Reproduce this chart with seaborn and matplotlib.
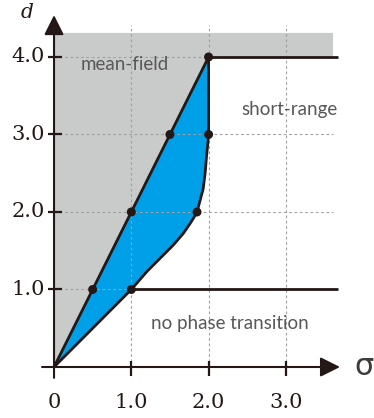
import numpy as np
import pandas as pd
import matplotlib
matplotlib.use("Agg")
import matplotlib.pyplot as plt
import seaborn as sns

# ---------------- data ----------------
x_ticks = [1.0, 2.0, 3.0]
x_tick_labels = ["1.0", "2.0", "3.0"]
y_ticks = [1.0, 2.0, 3.0, 4.0]
y_tick_labels = ["1.0", "2.0", "3.0", "4.0"]

# mean-field boundary d = 2*sigma
mf_sigma = [0.0, 2.0]
mf_d = [0.0, 4.0]

# short-range boundary (right edge of blue region)
sr_sigma = [0.0, 1.0, 1.2, 1.37, 1.54, 1.67, 1.76, 1.81, 1.85, 1.89, 1.93, 1.955, 1.975, 1.99, 2.0, 2.0]
sr_d = [0.0, 1.0, 1.23, 1.40, 1.57, 1.72, 1.85, 1.93, 2.0, 2.15, 2.30, 2.5, 2.74, 2.88, 3.0, 4.0]

# horizontal boundaries
upper_sigma = [2.0, 3.67]
upper_d = [4.0, 4.0]
lower_sigma = [1.0, 3.67]
lower_d = [1.0, 1.0]

# marked points
pt_sigma = [0.5, 1.0, 1.5, 2.0, 1.0, 1.85, 2.0]
pt_d = [1.0, 2.0, 3.0, 4.0, 1.0, 2.0, 3.0]

# gray mean-field region
gray_sigma = [0.0, 2.0, 3.61, 3.61, 0.0]
gray_d = [0.0, 4.0, 4.0, 4.31, 4.31]

region_labels = ["mean-field", "short-range", "no phase transition"]

# ---------------- style ----------------
sns.set_theme(style="white")
plt.rcParams["font.family"] = ["Lato", "DejaVu Sans"]

INK = "#231815"
BLUE = "#00a0e9"
GRAY = "#c9caca"
GRID = "#9fa0a0"
TEXT = "#595757"

fig = plt.figure(figsize=(3.74, 4.18), dpi=100)
ax = fig.add_axes([0, 0, 1, 1])
ax.set_xlim(-0.699, 4.140)
ax.set_ylim(-0.658, 4.735)
ax.axis("off")

# gray region
ax.fill(gray_sigma, gray_d, color=GRAY, lw=0, zorder=1)

# blue region: between d=2*sigma and the short-range curve
blue_sigma = list(sr_sigma) + [mf_sigma[0]]
blue_d = list(sr_d) + [mf_d[0]]
ax.fill(blue_sigma, blue_d, color=BLUE, lw=0, zorder=2)

# dashed grid
for xv in x_ticks:
    ax.plot([xv, xv], [0, 4.41], ls=(0, (2.4, 2.4)), color=GRID, lw=0.8, zorder=3)
for yv in y_ticks:
    ax.plot([0, 3.61], [yv, yv], ls=(0, (2.4, 2.4)), color=GRID, lw=0.8, zorder=3)

# boundary lines
line_df = pd.concat([
    pd.DataFrame({"sigma": mf_sigma, "d": mf_d, "seg": "mf"}),
    pd.DataFrame({"sigma": sr_sigma, "d": sr_d, "seg": "sr"}),
    pd.DataFrame({"sigma": upper_sigma, "d": upper_d, "seg": "up"}),
    pd.DataFrame({"sigma": lower_sigma, "d": lower_d, "seg": "lo"}),
], ignore_index=True)
sns.lineplot(data=line_df, x="sigma", y="d", units="seg", estimator=None,
             sort=False, color=INK, lw=2.0, ax=ax, zorder=5,
             solid_joinstyle="round", solid_capstyle="butt")

# points
pts = pd.DataFrame({"sigma": pt_sigma, "d": pt_d})
sns.scatterplot(data=pts, x="sigma", y="d", color=INK, s=42, edgecolor="none",
                ax=ax, zorder=6)

# axes with arrows
arrow_style = "-|>,head_length=0.6,head_width=0.3"
ax.annotate("", xy=(3.70, 0), xytext=(-0.155, 0),
            arrowprops=dict(arrowstyle=arrow_style, mutation_scale=20, lw=1.5,
                            color=INK, shrinkA=0, shrinkB=0), zorder=7)
ax.annotate("", xy=(0, 4.54), xytext=(0, -0.14),
            arrowprops=dict(arrowstyle=arrow_style, mutation_scale=20, lw=1.5,
                            color=INK, shrinkA=0, shrinkB=0), zorder=7)

# ticks
for xv in x_ticks:
    ax.plot([xv, xv], [-0.116, 0.077], color=INK, lw=1.6, zorder=7, solid_capstyle="butt")
for yv in y_ticks:
    ax.plot([-0.078, 0.103], [yv, yv], color=INK, lw=1.6, zorder=7, solid_capstyle="butt")

# tick labels
serif = ["DejaVu Serif"]
for xv, lab in zip([0.0] + x_ticks, ["0"] + x_tick_labels):
    ax.text(xv, -0.46, lab, ha="center", va="center", fontsize=15,
            family=serif, color=INK)
for yv, lab in zip(y_ticks, y_tick_labels):
    ax.text(-0.12, yv, lab, ha="right", va="center", fontsize=15,
            family=serif, color=INK)

# axis labels
ax.text(-0.35, 4.57, "d", ha="center", va="center", fontsize=14.5,
        family=serif, style="italic", color=INK)
ax.text(3.88, -0.10, "σ", ha="left", va="baseline", fontsize=22,
        family=["DejaVu Sans"], color="#3e3a39")

# region labels
ax.text(0.91, 3.83, region_labels[0], ha="center", va="baseline",
        fontsize=13.5, color=TEXT, zorder=4)
ax.text(3.05, 3.25, region_labels[1], ha="center", va="baseline",
        fontsize=13.5, color=TEXT, zorder=4)
ax.text(2.27, 0.49, region_labels[2], ha="center", va="baseline",
        fontsize=13.5, color=TEXT, zorder=4)

fig.savefig("out.png", dpi=100)
